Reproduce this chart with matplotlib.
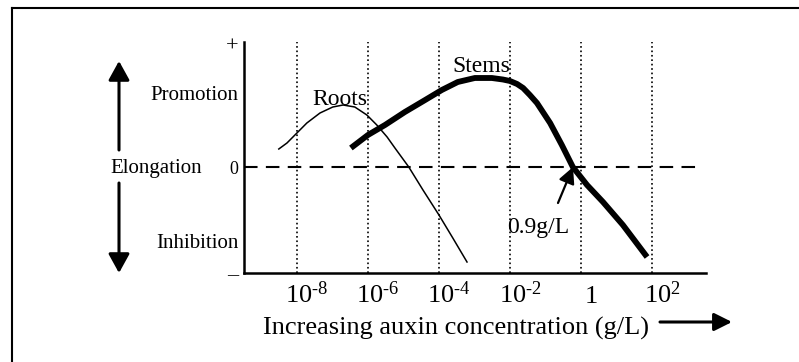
import matplotlib.pyplot as plt
import numpy as np
from matplotlib.lines import Line2D
from matplotlib.ticker import NullLocator
from matplotlib.transforms import ScaledTranslation

plt.rcParams['font.family'] = ['Liberation Serif', 'DejaVu Serif']
plt.rcParams['mathtext.fontset'] = 'custom'
plt.rcParams['mathtext.rm'] = 'Liberation Serif'

# auxin concentration as log10(g/L), response
roots_logc = [-8.51, -8.28, -8.00, -7.72, -7.35, -6.99, -6.70, -6.37, -6.03,
              -5.75, -5.46, -5.24, -4.85, -4.45, -4.00, -3.61, -3.21]
roots_resp = [0.18, 0.24, 0.34, 0.44, 0.54, 0.60, 0.62, 0.60, 0.52,
              0.42, 0.30, 0.19, 0.00, -0.23, -0.48, -0.71, -0.95]

stems_logc = [-6.48, -6.00, -5.52, -4.96, -4.39, -3.92, -3.47, -2.99, -2.51,
              -2.20, -2.00, -1.80, -1.63, -1.44, -1.24, -0.87, -0.54, -0.23,
              0.17, 0.62, 1.18, 1.86]
stems_resp = [0.19, 0.32, 0.42, 0.55, 0.67, 0.77, 0.85, 0.89, 0.89,
              0.875, 0.86, 0.83, 0.79, 0.72, 0.64, 0.44, 0.22, 0.00,
              -0.18, -0.35, -0.58, -0.90]

decades = [-8, -6, -4, -2, 0, 2]
decade_labels = ['$\\mathregular{10^{\u20108}}$', '$\\mathregular{10^{\u20106}}$',
                 '$\\mathregular{10^{\u20104}}$', '$\\mathregular{10^{\u20102}}$',
                 '$\\mathregular{1}$', '$\\mathregular{10^{2}}$']

resp_ticks = [1.22, 0.74, 0.0, -0.74, -1.06]
resp_labels = ['+', 'Promotion', '0', 'Inhibition', '\u2013']
resp_sizes = [16, 15, 13, 15, 16]

cross_logc = -0.225   # where stems cross zero
cross_label = '0.9g/L'

fig = plt.figure(figsize=(7.99, 3.62), dpi=100)
ax = fig.add_axes([244/799, 89/362, 462/799, 231/362])
ax.set_xscale('log')
ax.set_xlim(10**-9.49, 10**3.52)
ax.set_ylim(-1.06, 1.25)

for d in decades:
    ax.axvline(10.0**d, color='black', lw=1.2, ls=':')
ax.hlines(0, 10**-9.49, 10**3.30, colors='black', lw=1.5, linestyles=(0, (6.5, 4)))

ax.plot(10.0**np.array(roots_logc), roots_resp, color='black', lw=1.1,
        solid_joinstyle='round')
ax.plot(10.0**np.array(stems_logc), stems_resp, color='black', lw=4.2,
        solid_capstyle='butt', solid_joinstyle='round')

ax.text(10**-6.80, 0.62, 'Roots', fontsize=17, ha='center', va='baseline')
ax.text(10**-2.80, 0.95, 'Stems', fontsize=17, ha='center', va='baseline')
ax.text(10**-1.20, -0.66, cross_label, fontsize=17, ha='center', va='baseline')
ax.annotate('', xy=(10**cross_logc, 0), xytext=(10**-0.648, -0.36),
            arrowprops=dict(arrowstyle='-|>,head_length=0.7,head_width=0.35',
                            color='black', lw=1.6, shrinkA=0, shrinkB=0,
                            mutation_scale=14))

for side in ['top', 'right']:
    ax.spines[side].set_visible(False)
for side in ['left', 'bottom']:
    ax.spines[side].set_linewidth(1.8)

ax.set_xticks([10.0**d for d in decades], decade_labels)
ax.xaxis.set_minor_locator(NullLocator())
ax.tick_params(axis='x', length=0, labelsize=19, pad=21.6)
for lbl in ax.get_xticklabels():
    lbl.set_va('baseline')
    lbl.set_transform(lbl.get_transform() + ScaledTranslation(0.10, 0, fig.dpi_scale_trans))

ax.set_yticks(resp_ticks, resp_labels)
ax.tick_params(axis='y', length=0, pad=4)
for lbl, s in zip(ax.get_yticklabels(), resp_sizes):
    lbl.set_fontsize(s)

ax.set_ylabel('Elongation', rotation=0, fontsize=15, ha='center', va='center')
ax.yaxis.set_label_coords(-0.190, 0.4545)
ax.set_xlabel('Increasing auxin concentration (g/L)', fontsize=19, va='center')
ax.xaxis.set_label_coords(0.459, -0.242)

# arrows outside the axes
arr = dict(color='black', lw=2.2, shrinkA=0, shrinkB=0, mutation_scale=20)
ax.annotate('', xy=(119, 301), xytext=(119, 212), xycoords='figure pixels',
            arrowprops=dict(arrowstyle='-|>,head_length=0.58,head_width=0.32', **arr))
ax.annotate('', xy=(119, 89), xytext=(119, 179), xycoords='figure pixels',
            arrowprops=dict(arrowstyle='-|>,head_length=0.58,head_width=0.32', **arr))
ax.annotate('', xy=(732, 40), xytext=(660, 40), xycoords='figure pixels',
            arrowprops=dict(arrowstyle='-|>,head_length=0.54,head_width=0.27', **arr))

# frame around the picture (left and top edges show)
fig.add_artist(Line2D([12/799, 12/799], [0, 1 - 7.5/362], color='black', lw=1.5,
                      transform=fig.transFigure, solid_capstyle='projecting'))
fig.add_artist(Line2D([12/799, 1], [1 - 7.5/362, 1 - 7.5/362], color='black', lw=1.5,
                      transform=fig.transFigure, solid_capstyle='projecting'))

fig.savefig('out.png', dpi=100)
